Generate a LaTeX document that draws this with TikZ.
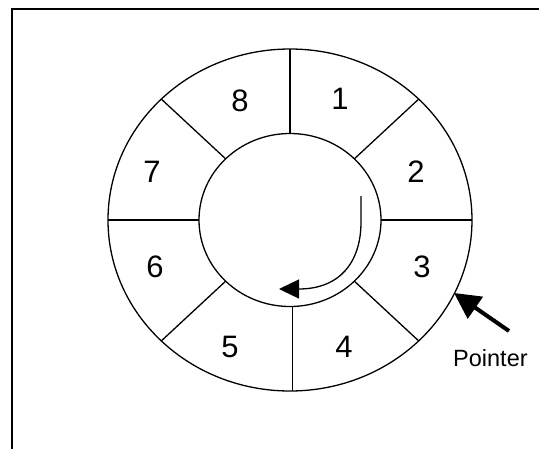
\documentclass[tikz,border=0pt]{standalone}
\usepackage{fontspec}
\setmainfont{Liberation Sans}
\usetikzlibrary{arrows.meta}
\begin{document}
\begin{tikzpicture}[x=1pt,y=-1pt,
  ring/.style={line width=1.3pt},
  num/.style={font=\fontsize{31}{31}\selectfont, inner sep=0pt},
  lab/.style={font=\fontsize{23.5}{23.5}\selectfont, inner sep=0pt}]
\useasboundingbox (0,0) rectangle (539,448);
\draw[line width=2pt] (11.5,8.5) rectangle (560,470);
% ring
\draw[ring] (290,220) ellipse [x radius=182, y radius=171];
\draw[ring] (290,220) ellipse [x radius=91, y radius=86.5];
\foreach \a in {0,45,135,180,225,270,315}
  \draw[ring] ({290+182*cos(\a)},{220+171*sin(\a)}) -- ({290+91*cos(\a)},{220+86.5*sin(\a)});
\draw[ring] (292.7,306.3) -- (292.7,391);
% labels
\node[num] (n1) at (340,99) {1};
\node[num] (n2) at (416,172) {2};
\node[num] (n3) at (422,267) {3};
\node[num] (n4) at (344,347) {4};
\node[num] (n5) at (230,347) {5};
\node[num] (n6) at (155,267) {6};
\node[num] (n7) at (152,172) {7};
\node[num] (n8) at (240,101) {8};
% rotation arrow
\coordinate (rs) at (361,196);
\coordinate (re) at (279,289);
\draw[line width=1.3pt, -{Triangle[length=20pt,width=19pt]}]
  (rs) -- (361,222) .. controls (361,262) and (340,289) .. (re);
% pointer
\coordinate (ptail) at (509,331);
\coordinate (ptip) at (454,293);
\draw[line width=4pt, -{Triangle[length=26pt,width=26pt]}] (ptail) -- (ptip);
\node[lab, anchor=base west] (ptr) at (453,366.7) {Pointer};
\end{tikzpicture}
\end{document}
